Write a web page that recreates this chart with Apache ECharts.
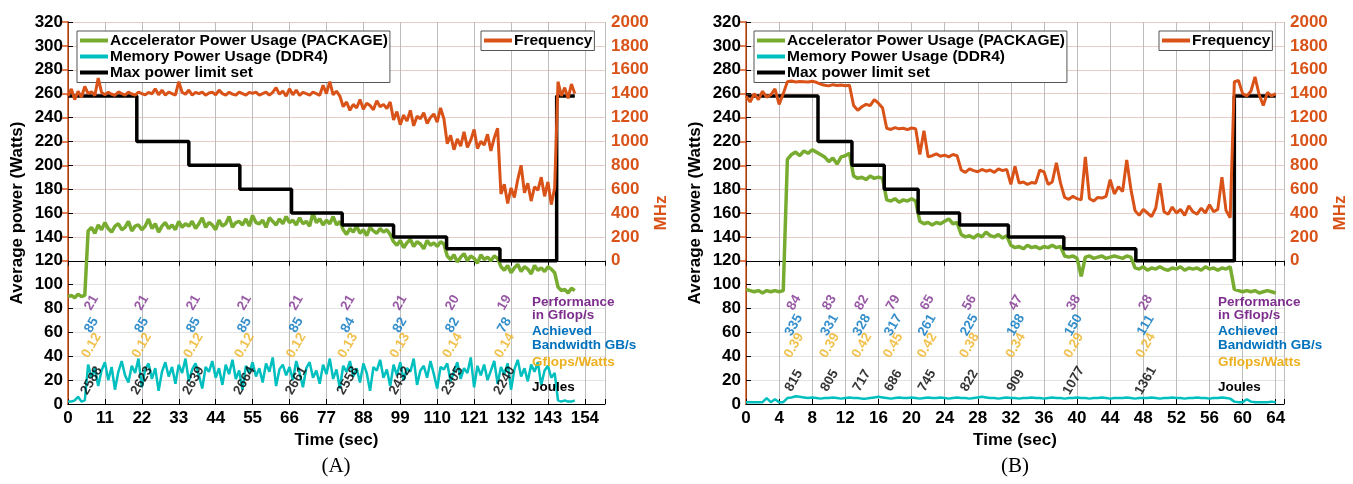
<!DOCTYPE html>
<html>
<head>
<meta charset="utf-8">
<title>Power capping runs</title>
<script src="https://cdn.jsdelivr.net/npm/echarts@6/dist/echarts.min.js"></script>
<style>
html, body { margin: 0; padding: 0; background: #fff; }
#chart { width: 1353px; height: 484px; }
</style>
</head>
<body>
<div id="chart"></div>
<script>
// sampling step of the traces (sec)
var stepA = 1;
var stepB = 0.5;

// ---- run (A) ----
var accelA = [90, 91, 89, 92, 90, 91,
  145, 148, 143, 150, 146, 152, 147, 144, 149, 151, 146, 148, 153, 145, 149,
  150, 146, 149, 155, 147, 151, 144, 149, 152, 147, 150, 146, 153, 148, 151,
  149, 153, 147, 151, 156, 148, 152, 150, 146, 154, 149, 151, 157, 148, 152,
  153, 150, 155, 149, 158, 152, 151, 154, 148, 156, 153, 150, 155, 151, 157, 152,
  154, 150, 156, 151, 153, 149, 160, 152, 155, 150, 154, 151, 157, 150, 153,
  146, 142, 147, 144, 149, 143, 146, 141, 148, 145, 143, 147, 144, 146, 142,
  136, 133, 137, 131, 135, 138, 132, 136, 134, 130, 137, 133, 135, 132, 136, 134,
  124, 121, 125, 119, 123, 126, 120, 124, 122, 118, 125, 121, 123, 120, 124, 122,
  115, 112, 116, 110, 114, 117, 111, 115, 113, 109, 116, 112, 114, 111, 115, 113, 110,
  98, 95, 96, 93, 97, 95];
var memA = [2, 2, 3, 6, 2, 3,
  33, 22, 30, 15, 28, 35, 20, 31, 12, 27,
  36, 24, 18, 32, 26, 38, 14, 29, 34, 21,
  30, 11, 27, 35, 23, 31, 17, 33, 26, 38,
  19, 29, 34, 24, 13, 31, 27, 36, 22, 30,
  16, 33, 25, 37, 21, 28, 12, 32, 26, 35,
  23, 30, 18, 34, 27, 39, 15, 29, 33, 24,
  31, 20, 36, 26, 14, 30, 35, 22, 28, 17,
  33, 25, 38, 21, 29, 13, 32, 27, 36, 23,
  30, 18, 34, 26, 11, 31, 28, 37, 22, 29,
  15, 33, 24, 35, 20, 30, 27, 38, 16, 28,
  32, 22, 36, 25, 13, 31, 29, 34, 19, 27,
  35, 21, 30, 26, 39, 14, 32, 24, 33, 20,
  28, 36, 17, 31, 25, 34, 12, 29, 37, 23,
  30, 19, 33, 27, 35, 16, 28, 32, 22, 26,
  3, 2, 3, 2, 2, 3];
var freqA = [1380, 1440, 1350, 1420, 1370, 1460,
  1400, 1415, 1385, 1530, 1410, 1390, 1412, 1395, 1386, 1414,
  1400, 1388, 1413, 1397, 1387, 1412, 1400, 1389, 1411, 1398,
  1440, 1390, 1430, 1388, 1412, 1400, 1387, 1500, 1412, 1395,
  1430, 1388, 1411, 1400, 1413, 1387, 1405, 1412, 1389, 1430,
  1400, 1388, 1412, 1396, 1387, 1413, 1400, 1388, 1411, 1402,
  1412, 1388, 1400, 1413, 1387, 1411, 1450, 1395, 1420, 1380,
  1440, 1390, 1430, 1385, 1410, 1400, 1388, 1412, 1400, 1386,
  1470, 1400, 1500, 1390, 1420, 1380,
  1290, 1330, 1260, 1310, 1280, 1350, 1270, 1320, 1300, 1265, 1340, 1290, 1310, 1275, 1330,
  1180, 1250, 1140, 1220, 1170, 1260, 1130, 1210, 1190, 1240, 1150, 1200, 1230, 1160, 1280, 1190,
  980, 1050, 930, 1020, 960, 1080, 950, 1010, 1100, 940, 1000, 970, 1060, 920, 1030, 1110,
  560, 640, 480, 610, 530, 680, 800, 570, 650, 500, 620, 590, 700, 540, 660, 470, 610,
  1500, 1380, 1450, 1360, 1480, 1400];
var limitTimeA = [0, 20.5, 36, 51.2, 66.6, 81.7, 97, 112.8, 128.7, 145.6, 151];
var limitA = [258, 220, 200, 180, 160, 150, 140, 130, 120, 258, 258];
var labelTimeA = [7.0, 22.0, 37.4, 52.6, 68.0, 83.4, 98.9, 114.6, 130.1];
var perfA = [21, 21, 21, 21, 21, 21, 21, 20, 19];
var bwA = [85, 85, 85, 85, 85, 84, 82, 82, 78];
var effA = ['0.12', '0.12', '0.12', '0.12', '0.12', '0.13', '0.13', '0.14', '0.14'];
var joulesA = [2588, 2623, 2639, 2664, 2661, 2558, 2432, 2305, 2240];

// ---- run (B) ----
var accelB = [96, 95, 94, 95, 93, 95, 94, 95, 94, 95,
  205,
  209, 211, 208, 212, 210, 213, 211,
  209, 207, 203, 206, 201, 207, 208, 210,
  191, 189, 190, 188, 191, 189, 190, 189,
  171, 170, 172, 169, 171, 170, 172, 170,
  153, 151, 152, 150, 152, 151, 153, 155, 151, 152,
  142, 140, 141, 139, 142, 140, 144, 141, 140, 142, 139, 141,
  133, 131, 132, 130, 133, 131, 132, 130, 132, 131, 133, 131, 132,
  124, 123, 124, 122, 107, 123, 124, 122, 123, 124, 122, 123, 124, 123, 122, 124, 123,
  114, 113, 115, 112, 114, 113, 115, 113, 112, 114, 113, 115, 112, 114, 113, 114, 112, 115, 113, 114, 112, 114, 113, 115,
  96, 95, 94, 95, 94, 95, 93, 94, 95, 94, 93];
var memB = [1.5, 1.5, 1.5, 1.5, 1.5, 5, 1.5, 4, 1.5, 1.5,
  5, 5.5, 6.5, 6, 5.5, 5, 5.5, 5, 4.5, 5,
  5, 5.5, 5, 4.5, 5, 5.5, 5, 5, 4.5, 4.5,
  5, 5.5, 6, 5.5, 5, 4.5, 5, 5.5, 5, 5,
  5.5, 5, 4.5, 5, 5.5, 5, 5, 5.5, 5, 4.5,
  5, 5.5, 5, 5, 4.5, 5, 5.5, 6, 5.5, 5,
  5, 4.5, 5, 5.5, 5, 5, 4.5, 5, 5, 5.5,
  5, 5, 4.5, 5, 5.5, 5, 5, 4.5, 5, 5,
  5.5, 5, 5, 4.5, 5, 5, 5.5, 5, 4.5, 5,
  5, 5, 5.5, 5, 4.5, 5, 5, 5, 5.5, 5,
  4.5, 5, 5, 5.5, 5, 5, 4.5, 5, 5, 5.5,
  5, 5, 4.5, 5, 5, 5.5, 5, 4.5,
  2, 1.5, 1.5, 4, 2, 1.5, 1.5, 1.5, 1.5, 2, 1.5];
var freqB = [1380, 1330, 1400, 1350, 1420, 1370, 1390, 1440, 1310, 1400,
  1500, 1505, 1498, 1502, 1500, 1497, 1503, 1495,
  1480, 1470, 1465, 1475, 1468, 1472, 1466, 1470,
  1300, 1260, 1290, 1310, 1300, 1350, 1320, 1280,
  1110, 1100, 1115, 1105, 1110, 1098, 1112, 1105,
  890, 1090, 870, 880, 895, 875, 885, 870, 890, 880,
  760, 740, 770, 755, 745, 765, 750, 760, 740, 770, 755, 765,
  640, 790, 650, 660, 640, 655, 650, 760, 745, 640, 660, 820, 650,
  530, 515, 540, 520, 510, 870, 520, 500, 530, 525, 540, 680, 560, 620, 580, 845, 600,
  420, 380, 430, 400, 370, 440, 650, 410, 390, 450, 400, 430, 380, 460, 410, 390, 440, 400, 470, 410, 430, 700, 420, 360,
  1500, 1510, 1400, 1380, 1420, 1540, 1390, 1300, 1410, 1380, 1400];
var limitTimeB = [0, 8.7, 12.8, 16.7, 20.8, 25.8, 31.7, 38.4, 47.1, 59, 64];
var limitB = [258, 220, 200, 180, 160, 150, 140, 130, 120, 258, 258];
var labelTimeB = [5.8, 10.1, 14.0, 17.8, 21.9, 27.0, 32.6, 39.6, 48.3];
var perfB = [84, 83, 82, 79, 65, 56, 47, 38, 28];
var bwB = [335, 331, 328, 317, 261, 225, 188, 150, 111];
var effB = ['0.39', '0.39', '0.42', '0.45', '0.42', '0.38', '0.34', '0.29', '0.24'];
var joulesB = [815, 805, 717, 686, 745, 822, 909, 1077, 1361];

var rightTicks = [0, 200, 400, 600, 800, 1000, 1200, 1400, 1600, 1800, 2000];

// names / colours
var N_ACC = 'Accelerator Power Usage (PACKAGE)';
var N_MEM = 'Memory Power Usage (DDR4)';
var N_MAX = 'Max power limit set';
var N_FRQ = 'Frequency';
var C_ACC = '#77AC30', C_MEM = '#00BFBF', C_FRQ = '#D95319';
var C_PERF = '#7E2F8E', C_BW = '#0072BD', C_EFF = '#EDB120';
var FONT = 'Liberation Sans, Arial, Helvetica, sans-serif';

// heights (W) at which the annotation rows sit
var ROW_PERF = 85, ROW_BW = 66, ROW_EFF = 49, ROW_J = 19.5;

function toPairs(arr, step) {
  return arr.map(function (v, i) { return [i * step, v]; });
}
function zipPairs(xs, ys) {
  return xs.map(function (x, i) { return [x, ys[i]]; });
}

// horizontal grid: grey under the MHz range, reddish where the MHz grid is
var hGridColors = [];
for (var k = 0; k <= 16; k++) hGridColors.push(k < 6 ? '#e2e2e2' : '#e8cdc6');

function xAxes(grid, max, interval, lastTick) {
  return [{
    gridIndex: grid, type: 'value', min: 0, max: max, interval: interval,
    axisLine: { lineStyle: { color: '#000', width: 1 } },
    axisTick: { inside: true, length: 5, lineStyle: { color: '#000' } },
    axisLabel: {
      color: '#000', fontSize: 17, fontWeight: 'bold', fontFamily: FONT, margin: 6,
      formatter: function (v) { return v > lastTick ? '' : v; }
    },
    splitLine: { show: true, lineStyle: { color: '#bdbdbd', width: 1 } },
    name: 'Time (sec)', nameLocation: 'middle', nameGap: 27,
    nameTextStyle: { color: '#000', fontSize: 17, fontWeight: 'bold', fontFamily: FONT, verticalAlign: 'top' }
  }, {
    gridIndex: grid, type: 'value', position: 'top', min: 0, max: max, interval: interval,
    axisLine: { lineStyle: { color: '#000', width: 1 } },
    axisTick: { inside: true, length: 5, lineStyle: { color: '#000' } },
    axisLabel: { show: false },
    splitLine: { show: false }
  }];
}

function yAxes(grid) {
  return [{
    gridIndex: grid, type: 'value', min: 0, max: 320, interval: 20,
    axisLine: { show: true, lineStyle: { color: '#000', width: 1 } },
    axisTick: { show: true, inside: true, length: 5, lineStyle: { color: '#000' } },
    axisLabel: { color: '#000', fontSize: 17, fontWeight: 'bold', fontFamily: FONT, margin: 5 },
    splitLine: { show: true, lineStyle: { color: hGridColors, width: 1 } },
    name: 'Average power (Watts)', nameLocation: 'middle', nameGap: 42, nameRotate: 90,
    nameTextStyle: { color: '#000', fontSize: 17, fontWeight: 'bold', fontFamily: FONT }
  }, {
    gridIndex: grid, type: 'value', position: 'right', min: -1200, max: 2000, interval: 200,
    axisLine: { show: true, lineStyle: { color: C_FRQ, width: 1.5 } },
    axisTick: { show: true, inside: true, length: 6, customValues: rightTicks, lineStyle: { color: C_FRQ, width: 1.5 } },
    axisLabel: {
      color: C_FRQ, fontSize: 17, fontWeight: 'bold', fontFamily: FONT, margin: 6,
      customValues: rightTicks,
      formatter: function (v) { return v < 0 ? '' : v; }
    },
    splitLine: { show: false },
    name: 'MHz', nameLocation: 'middle', nameGap: 47, nameRotate: 90,
    nameTextStyle: { color: C_FRQ, fontSize: 17, fontWeight: 'bold', fontFamily: FONT }
  }];
}

function labelRow(times, vals, rowY, color, xi, yi) {
  return {
    type: 'scatter', xAxisIndex: xi, yAxisIndex: yi, silent: true,
    symbolSize: 1, itemStyle: { color: 'rgba(0,0,0,0)' }, z: 6,
    data: times.map(function (t, i) { return { name: String(vals[i]), value: [t, rowY] }; }),
    label: {
      show: true, position: 'inside', formatter: '{b}', rotate: 60,
      color: color, fontSize: 13.5, fontWeight: 'bold', fontFamily: FONT
    }
  };
}

function panelSeries(p, xi, yi) {
  return [
    { name: N_ACC, type: 'line', xAxisIndex: xi, yAxisIndex: yi, data: toPairs(p.accel, p.step),
      symbol: 'none', color: C_ACC, lineStyle: { color: C_ACC, width: 3.5 }, z: 2 },
    { name: N_MEM, type: 'line', xAxisIndex: xi, yAxisIndex: yi, data: toPairs(p.mem, p.step),
      symbol: 'none', color: C_MEM, lineStyle: { color: C_MEM, width: 2.5 }, z: 2 },
    { name: N_MAX, type: 'line', xAxisIndex: xi, yAxisIndex: yi, data: zipPairs(p.limitTime, p.limit),
      step: 'end', symbol: 'none', color: '#000', lineStyle: { color: '#000', width: 3.5 }, z: 3 },
    { name: N_FRQ, type: 'line', xAxisIndex: xi, yAxisIndex: yi + 1, data: toPairs(p.freq, p.step),
      symbol: 'none', color: C_FRQ, lineStyle: { color: C_FRQ, width: 3 }, z: 4 },
    labelRow(p.labelTime, p.perf, ROW_PERF, C_PERF, xi, yi),
    labelRow(p.labelTime, p.bw, ROW_BW, C_BW, xi, yi),
    labelRow(p.labelTime, p.eff, ROW_EFF, C_EFF, xi, yi),
    labelRow(p.labelTime, p.joules, ROW_J, '#000', xi, yi)
  ];
}

function legends(left3, leftF) {
  var common = {
    orient: 'vertical', top: 31, icon: 'rect', itemWidth: 28, itemHeight: 4, itemGap: 0,
    selectedMode: false, backgroundColor: '#fff', borderColor: '#555', borderWidth: 1,
    padding: [1.5, 2, 2, 3],
    textStyle: { color: '#000', fontSize: 15.5, fontWeight: 'bold', fontFamily: FONT, lineHeight: 15, padding: [0, 0, 0, -3] }
  };
  return [
    Object.assign({}, common, { left: left3, data: [N_ACC, N_MEM, N_MAX] }),
    Object.assign({}, common, { left: leftF, data: [N_FRQ] })
  ];
}

function sideNotes(x) {
  var rows = [
    ['Performance', 302, C_PERF], ['in Gflop/s', 315.5, C_PERF],
    ['Achieved', 331, C_BW], ['Bandwidth GB/s', 345.5, C_BW],
    ['Gflops/Watts', 362, C_EFF], ['Joules', 387, '#000']
  ];
  return rows.map(function (r) {
    return { type: 'text', x: x, y: r[1], silent: true, z: 100,
      style: { text: r[0], fill: r[2], font: 'bold 13.5px ' + FONT, verticalAlign: 'middle' } };
  });
}

var panelA = { step: stepA, accel: accelA, mem: memA, freq: freqA, limitTime: limitTimeA, limit: limitA,
  labelTime: labelTimeA, perf: perfA, bw: bwA, eff: effA, joules: joulesA };
var panelB = { step: stepB, accel: accelB, mem: memB, freq: freqB, limitTime: limitTimeB, limit: limitB,
  labelTime: labelTimeB, perf: perfB, bw: bwB, eff: effB, joules: joulesB };

var myChart = echarts.init(document.getElementById('chart'), null, { renderer: 'canvas' });
var option = {
  backgroundColor: '#fff',
  animation: false,
  grid: [
    { left: 68, top: 22, width: 537, height: 382 },
    { left: 746, top: 22, width: 538, height: 382 }
  ],
  xAxis: xAxes(0, 160, 11, 154).concat(xAxes(1, 65, 4, 64)),
  yAxis: yAxes(0).concat(yAxes(1)),
  legend: legends(77, 481).concat(legends(754, 1159)),
  series: panelSeries(panelA, 0, 0).concat(panelSeries(panelB, 2, 2)),
  graphic: sideNotes(532).concat(sideNotes(1218)).concat([
    { type: 'text', x: 336, y: 466, silent: true,
      style: { text: '(A)', fill: '#000', font: '21px Liberation Serif, Times New Roman, serif', align: 'center', verticalAlign: 'middle' } },
    { type: 'text', x: 1015, y: 466, silent: true,
      style: { text: '(B)', fill: '#000', font: '21px Liberation Serif, Times New Roman, serif', align: 'center', verticalAlign: 'middle' } }
  ])
};
myChart.setOption(option);
</script>
</body>
</html>
